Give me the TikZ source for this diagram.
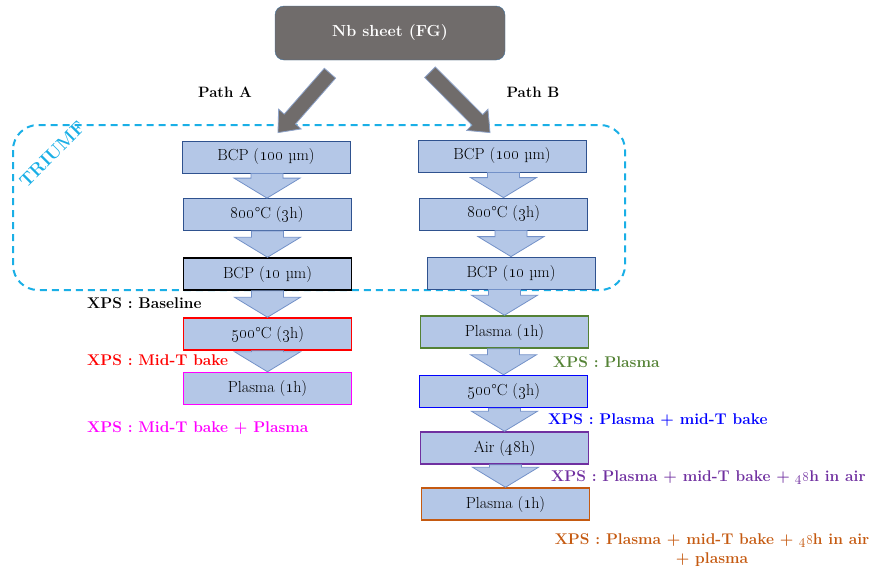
\documentclass[tikz,border=0pt]{standalone}
\usetikzlibrary{calc}

\definecolor{boxfill}{HTML}{B4C7E7}
\definecolor{boxline}{HTML}{2F528F}
\definecolor{flowline}{HTML}{7391C8}
\definecolor{nbgray}{HTML}{706C6B}
\definecolor{nbline}{HTML}{41719C}
\definecolor{feedline}{HTML}{8EA3C9}
\definecolor{triumfcyan}{HTML}{1AAFE6}
\definecolor{xpsred}{HTML}{FF0000}
\definecolor{xpsmagenta}{HTML}{FF00FF}
\definecolor{xpsgreen}{HTML}{548235}
\definecolor{xpsblue}{HTML}{0000FF}
\definecolor{xpspurple}{HTML}{7030A0}
\definecolor{xpsorange}{HTML}{C55A11}

\tikzset{
  proc/.style={draw=boxline, fill=boxfill, line width=0.8pt, minimum width=168pt,
    minimum height=32pt, inner sep=0pt, font=\fontsize{16}{18}\selectfont},
  flow/.style={draw=flowline, fill=boxfill, line width=0.8pt, line join=miter},
  feed/.style={draw=feedline, fill=nbgray, line width=0.8pt, line join=miter},
  xps/.style={anchor=west, inner sep=0pt, font=\fontsize{15.5}{19}\selectfont\bfseries},
}

% block arrow: style, start, end, shaft half width, head half width, head length
\newcommand{\fatarrow}[6]{%
  \coordinate (fa-s) at (#2);
  \coordinate (fa-e) at (#3);
  \coordinate (fa-h) at ($(fa-e)!#6!(fa-s)$);
  \draw[#1] ($(fa-s)!#4!90:(fa-e)$) -- ($(fa-h)!#4!90:(fa-e)$) -- ($(fa-h)!#5!90:(fa-e)$)
    -- (fa-e) -- ($(fa-h)!#5!-90:(fa-e)$) -- ($(fa-h)!#4!-90:(fa-e)$)
    -- ($(fa-s)!#4!-90:(fa-e)$) -- cycle;
}

\begin{document}
\begin{tikzpicture}[x=1pt, y=-1pt]
  \useasboundingbox (0,0) rectangle (872,574);

  % TRIUMF region
  \draw[triumfcyan, line width=2pt, dash pattern=on 7pt off 5pt, rounded corners=25pt]
    (13,125) rectangle (625,290);
  \node[triumfcyan, rotate=45, inner sep=0pt, font=\fontsize{18}{20}\selectfont\bfseries] (triumf) at (52,154) {TRIUMF};

  % start
  \node[draw=nbline, fill=nbgray, rounded corners=9pt, minimum width=230pt, minimum height=54pt,
    text=white, font=\fontsize{16}{18}\selectfont\bfseries] (nb) at (390,33) {Nb sheet (FG)};
  \node[font=\fontsize{15}{17}\selectfont\bfseries] (pathA) at (225,92) {Path A};
  \node[font=\fontsize{15}{17}\selectfont\bfseries] (pathB) at (533,92) {Path B};

  % path A
  \node[proc] (a1) at (266,157) {BCP (\oldstylenums{100} µm)};
  \node[proc] (a2) at (267,214.5) {\oldstylenums{800}°C (\oldstylenums{3}h)};
  \node[proc, draw=black, line width=1.5pt] (a3) at (267.5,274) {BCP (\oldstylenums{10} µm)};
  \node[proc, draw=xpsred, line width=1.5pt] (a4) at (267.5,334) {\oldstylenums{500}°C (\oldstylenums{3}h)};
  \node[proc, draw=xpsmagenta, line width=1.5pt] (a5) at (267.5,388.5) {Plasma (\oldstylenums{1}h)};

  % path B
  \node[proc] (b1) at (502,156) {BCP (\oldstylenums{100} µm)};
  \node[proc] (b2) at (503.5,214) {\oldstylenums{800}°C (\oldstylenums{3}h)};
  \node[proc] (b3) at (511,273) {BCP (\oldstylenums{10} µm)};
  \node[proc, draw=xpsgreen, line width=1.5pt] (b4) at (504.5,332) {Plasma (\oldstylenums{1}h)};
  \node[proc, draw=xpsblue, line width=1.5pt] (b5) at (503.5,391.5) {\oldstylenums{500}°C (\oldstylenums{3}h)};
  \node[proc, draw=xpspurple, line width=1.5pt] (b6) at (504.5,448) {Air (\oldstylenums{48}h)};
  \node[proc, draw=xpsorange, line width=1.5pt] (b7) at (505.5,504) {Plasma (\oldstylenums{1}h)};

  \foreach \u/\v in {a1/a2,a2/a3,a3/a4,a4/a5,b1/b2,b2/b3,b3/b4,b4/b5,b5/b6,b6/b7}
    \fatarrow{flow}{\u.south -| \v.north}{\v.north}{16pt}{33pt}{20pt};

  % split into the two paths
  \coordinate (ta) at ($(nb.south)+(-60,13)$);
  \coordinate (tb) at ($(nb.south)+(40,12)$);
  \coordinate (ha) at ($(a1.north)+(12,-8)$);
  \coordinate (hb) at ($(b1.north)+(-12,-7)$);
  \fatarrow{feed}{ta}{ha}{7.5pt}{15pt}{18pt};
  \fatarrow{feed}{tb}{hb}{7.5pt}{15pt}{18pt};

  % XPS points
  \node[xps] (xa3) at (87,303) {XPS : Baseline};
  \node[xps, xpsred] (xa4) at (87,360) {XPS : Mid-T bake};
  \node[xps, xpsmagenta] (xa5) at (87,428) {XPS : Mid-T bake + Plasma};
  \node[xps, xpsgreen] (xb4) at (553,362) {XPS : Plasma};
  \node[xps, xpsblue] (xb5) at (548,420) {XPS : Plasma + mid-T bake};
  \node[xps, xpspurple] (xb6) at (551,477) {XPS : Plasma + mid-T bake + \oldstylenums{48}h in air};
  \node[xps, xpsorange, anchor=center, align=center] (xb7) at (712,550)
    {XPS : Plasma + mid-T bake + \oldstylenums{48}h in air\\+ plasma};
\end{tikzpicture}
\end{document}
